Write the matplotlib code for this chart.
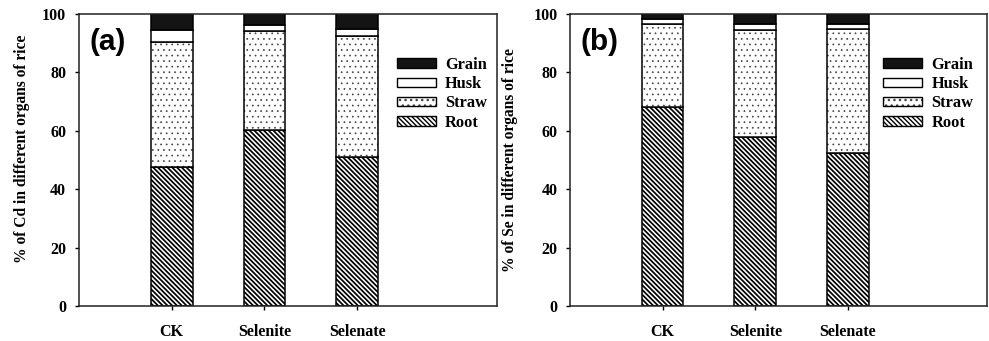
import matplotlib.pyplot as plt
import numpy as np
from matplotlib.patches import Patch

categories = ["CK", "Selenite", "Selenate"]
organs = ["Root", "Straw", "Husk", "Grain"]

# % of Cd in organs (panel a)
cd_root = [47.5, 60.3, 51.0]
cd_straw = [43.0, 33.9, 41.6]
cd_husk = [4.0, 2.0, 2.2]
cd_grain = [5.5, 3.8, 5.2]

# % of Se in organs (panel b)
se_root = [68.0, 58.0, 52.5]
se_straw = [28.6, 36.5, 42.3]
se_husk = [1.7, 2.0, 1.7]
se_grain = [1.7, 3.5, 3.5]

# fill, hatch, hatch colour, hatch linewidth
styles = {
    "Root": ("white", "\\" * 7, "black", 1.25),
    "Straw": ("white", "...", "#444444", 0.5),
    "Husk": ("white", None, "black", 1.0),
    "Grain": ("#141414", None, "black", 1.0),
}

serif = "Liberation Serif"


def fill_patch(organ):
    fc, h, hc, hlw = styles[organ]
    with plt.rc_context({"hatch.linewidth": hlw}):
        p = Patch(facecolor=fc, hatch=h, edgecolor=hc, linewidth=0)
    if hasattr(p, "set_hatch_linewidth"):
        p.set_hatch_linewidth(hlw)
    return p


fig = plt.figure(figsize=(9.89, 3.41), dpi=100)
ax_a = fig.add_axes([0.0796, 0.1026, 0.4226, 0.8563])
ax_b = fig.add_axes([0.5763, 0.1026, 0.4216, 0.8563])


def draw(ax, data, ylabel, tag, label_x, label_y, leg_x):
    x = np.arange(1, len(categories) + 1)
    bottom = np.zeros(len(categories))
    for organ, vals in zip(organs, data):
        fc, h, hc, hlw = styles[organ]
        with plt.rc_context({"hatch.linewidth": hlw}):
            bars = ax.bar(x, vals, 0.45, bottom=bottom, facecolor=fc, hatch=h,
                          edgecolor=hc, linewidth=0)
        for b in bars:
            if hasattr(b, "set_hatch_linewidth"):
                b.set_hatch_linewidth(hlw)
        ax.bar(x, vals, 0.45, bottom=bottom, fill=False, edgecolor="black",
               linewidth=1.1)
        bottom += np.array(vals)
    ax.set_xlim(0, 4.5)
    ax.set_ylim(0, 100)
    ax.set_yticks(range(0, 101, 20))
    ax.set_xticks(x)
    ax.set_xticklabels(categories)
    for s in ax.spines.values():
        s.set_linewidth(1.1)
        s.set_color("#222222")
    ax.tick_params(axis="both", direction="out", length=3, width=1)
    ax.tick_params(axis="x", pad=10)
    ax.tick_params(axis="y", pad=6)
    for t in ax.get_xticklabels() + ax.get_yticklabels():
        t.set_fontfamily(serif)
        t.set_fontweight("bold")
        t.set_fontsize(11.5)
    ax.set_ylabel(ylabel, fontfamily=serif, fontweight="bold", fontsize=11.2)
    ax.yaxis.set_label_coords(label_x, label_y)
    ax.text(0.025, 0.905, tag, transform=ax.transAxes, fontfamily="Liberation Sans",
            fontweight="bold", fontsize=21.5, va="center", ha="left")
    handles = [(fill_patch(o), Patch(fill=False, edgecolor="black", linewidth=1.0))
               for o in organs[::-1]]
    ax.legend(handles=handles, labels=organs[::-1], loc="upper left",
              bbox_to_anchor=(leg_x, 0.853),
              frameon=False, borderpad=0, borderaxespad=0, handlelength=2.4,
              handleheight=0.5, labelspacing=0.2, handletextpad=0.55,
              prop=dict(family=serif, weight="bold", size=11.8))


draw(ax_a, [cd_root, cd_straw, cd_husk, cd_grain],
     "% of Cd in different organs of rice", "(a)", -0.117, 0.54, 0.761)
draw(ax_b, [se_root, se_straw, se_husk, se_grain],
     "% of Se in different organs of rice", "(b)", -0.125, 0.50, 0.751)

fig.savefig("out.png", dpi=100)
